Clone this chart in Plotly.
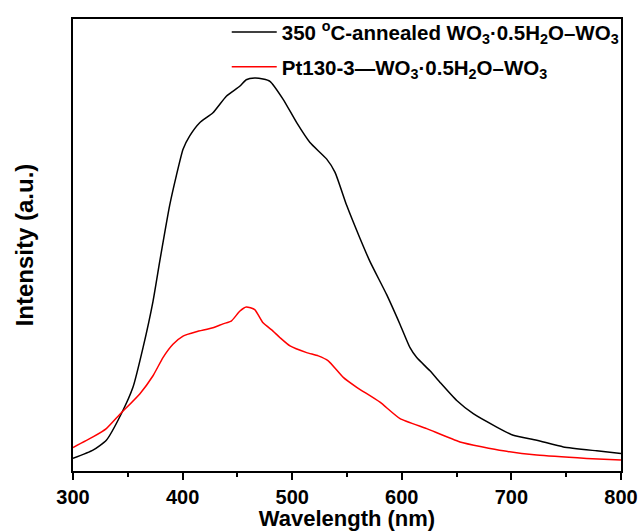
import plotly.graph_objects as go

# Black: 350 °C-annealed WO3·0.5H2O–WO3
wl_black = [300, 318.2, 330.4, 344.1, 354.7, 363.9, 373.0, 379.1, 388.2, 394.3, 400.4, 406.5,
            415.6, 427.7, 439.9, 452.1, 458.1, 465.8, 473.4, 479.7, 491.9, 504.1, 516.2,
            531.5, 539.1, 549.7, 561.9, 571.0, 586.2, 598.4, 607.5, 613.6, 625.7, 634.9,
            650.1, 665.2, 686.6, 701.7, 723.1, 747.4, 777.8, 800]
int_black = [12.7, 21, 31, 57.7, 84.3, 124.3, 171, 211, 267.7, 297.7, 324.3, 337.7,
             351, 361, 377.7, 387.7, 394.3, 396, 395, 392.7, 374.3, 351, 331,
             314.3, 301, 267.7, 234.3, 211, 177.7, 147.7, 124.3, 114.3, 101, 89.3,
             71, 57.7, 44.3, 36, 31, 24.3, 20.3, 17.7]

# Red: Pt130-3—WO3·0.5H2O–WO3
wl_red = [300, 318.2, 330.4, 342.6, 360.9, 373.0, 382.1, 391.2, 400.4, 412.5, 427.7, 436.9,
          444.4, 452.1, 458.1, 465.8, 473.4, 482.5, 488.9, 498.0, 513.2, 523.8, 532.9,
          546.6, 558.9, 580.1, 598.4, 622.7, 653.1, 692.6, 723.1, 768.7, 800]
int_red = [23.7, 34.3, 42.7, 57, 77.7, 96, 114.3, 127.7, 136, 140.3, 144.3, 148.3,
           151, 161, 165.3, 162.7, 149.3, 141, 134.3, 126, 119.3, 116, 111,
           94.3, 84.3, 69.3, 52.7, 42.7, 29.3, 20.3, 16, 12.7, 11]

x_ticks = [300, 400, 500, 600, 700, 800]

name_black = "350 <sup>o</sup>C-annealed WO<sub>3</sub>·0.5H<sub>2</sub>O–WO<sub>3</sub>"
name_red = "Pt130-3—WO<sub>3</sub>·0.5H<sub>2</sub>O–WO<sub>3</sub>"

fig = go.Figure()
fig.add_trace(go.Scatter(x=wl_black, y=int_black, mode="lines", name=name_black,
                         line=dict(color="black", width=1.5, shape="spline", smoothing=0.5),
                         legendgroup="a"))
fig.add_trace(go.Scatter(x=wl_red, y=int_red, mode="lines", name=name_red,
                         line=dict(color="#ff0000", width=1.5, shape="spline", smoothing=0.5),
                         legendgroup="b"))

font_family = "Arial, Liberation Sans, sans-serif"
fig.update_layout(
    width=641, height=531,
    margin=dict(l=73, r=20, t=15, b=60),
    plot_bgcolor="white", paper_bgcolor="white",
    font=dict(family=font_family, color="black", weight="bold"),
    showlegend=True,
    legend=dict(x=1.005, y=1.015, xanchor="right", yanchor="top",
                font=dict(size=20.5, family=font_family, weight="bold"),
                bgcolor="rgba(0,0,0,0)", borderwidth=0, tracegroupgap=5,
                itemwidth=45),
    xaxis=dict(range=[300, 800], tickvals=x_ticks, ticks="outside", ticklen=7,
               tickwidth=2, tickcolor="black", showline=True, linewidth=2,
               linecolor="black", mirror=True, showgrid=False, zeroline=False,
               automargin=False,
               tickfont=dict(size=20, family=font_family, weight="bold"),
               minor=dict(dtick=50, ticks="outside", ticklen=4, tickwidth=2, tickcolor="black"),
               title=dict(text="Wavelength (nm)", standoff=0,
                          font=dict(size=22, family=font_family, weight="bold"))),
    yaxis=dict(range=[0, 455.5], showticklabels=False, ticks="", showline=True,
               linewidth=2, linecolor="black", mirror=True, showgrid=False,
               zeroline=False, automargin=False,
               title=dict(text="Intensity (a.u.)", standoff=31,
                          font=dict(size=24, family=font_family, weight="bold"))),
)

fig.write_html("out.html")
